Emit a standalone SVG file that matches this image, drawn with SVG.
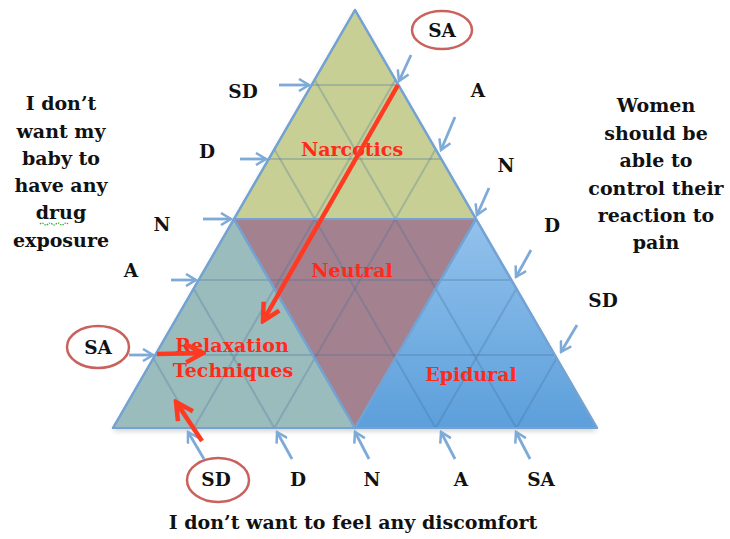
<svg xmlns="http://www.w3.org/2000/svg" width="730" height="539" viewBox="0 0 730 539">
<style>
.lbl{font-family:"DejaVu Serif","Liberation Serif",serif;font-weight:bold;font-size:18.5px;fill:#111;text-anchor:middle}
.cap{font-family:"DejaVu Serif","Liberation Serif",serif;font-weight:bold;font-size:19px;fill:#111;text-anchor:middle}
.red{font-family:"DejaVu Serif","Liberation Serif",serif;font-weight:bold;font-size:19px;fill:#ff2a1a;text-anchor:middle}
.edge{stroke:#74a3d3;stroke-width:2.2;stroke-linejoin:round}
.grid{stroke:#3f6f9c;stroke-opacity:0.28;stroke-width:2;fill:none}
.barrow{stroke:#7eaad8;stroke-width:2.8;fill:none;marker-end:url(#bh)}
.rarrow{stroke:#ff3a22;stroke-width:4.5;fill:none;marker-end:url(#rh)}
.ring{fill:none;stroke:#c9625d;stroke-width:2.5}
</style>
<defs>
<marker id="bh" markerUnits="userSpaceOnUse" viewBox="0 0 14 14" markerWidth="14" markerHeight="14" refX="12" refY="7" orient="auto">
<path d="M2,1 L12,7 L2,13" fill="none" stroke="#7eaad8" stroke-width="2.5"/>
</marker>
<marker id="rh" markerUnits="userSpaceOnUse" viewBox="0 0 22 22" markerWidth="22" markerHeight="22" refX="19" refY="11" orient="auto">
<path d="M2,2 L19,11 L2,20" fill="none" stroke="#ff3a22" stroke-width="4.5"/>
</marker>
<linearGradient id="bluegrad" x1="0" y1="0" x2="0" y2="1">
<stop offset="0" stop-color="#93c2ec"/>
<stop offset="1" stop-color="#5c9fdb"/>
</linearGradient>
<filter id="shadow" x="-10%" y="-10%" width="120%" height="130%">
<feGaussianBlur stdDeviation="2.5"/>
</filter>
</defs>

<polygon points="355,12 113,431 597,431" fill="#777" opacity="0.35" filter="url(#shadow)"/>

<g id="narcotics">
<polygon class="edge" points="355,10 234,219 476,219" fill="#c7cf95"/>
</g>
<g id="relaxation">
<polygon class="edge" points="234,219 113,428 355,428" fill="#9bbcbd"/>
</g>
<g id="neutral">
<polygon class="edge" points="234,219 476,219 355,428" fill="#a3818f"/>
</g>
<g id="epidural">
<polygon class="edge" points="476,219 355,428 597,428" fill="url(#bluegrad)"/>
</g>

<g id="grid">
<line class="grid" x1="311.6" y1="85" x2="398.4" y2="85"/>
<line class="grid" x1="268.7" y1="159" x2="441.3" y2="159"/>
<line class="grid" x1="198.7" y1="280" x2="511.3" y2="280"/>
<line class="grid" x1="155.3" y1="355" x2="554.7" y2="355"/>
<line class="grid" x1="193.67" y1="428" x2="395.33" y2="79.67"/>
<line class="grid" x1="274.33" y1="428" x2="435.67" y2="149.33"/>
<line class="grid" x1="435.67" y1="428" x2="516.33" y2="288.67"/>
<line class="grid" x1="516.33" y1="428" x2="556.67" y2="358.33"/>
<line class="grid" x1="193.67" y1="428" x2="153.33" y2="358.33"/>
<line class="grid" x1="274.33" y1="428" x2="193.67" y2="288.67"/>
<line class="grid" x1="435.67" y1="428" x2="274.33" y2="149.33"/>
<line class="grid" x1="516.33" y1="428" x2="314.67" y2="79.67"/>
</g>

<g id="borders" fill="none">
<polygon class="edge" points="355,10 113,428 597,428"/>
<polyline class="edge" points="234,219 476,219 355,428 234,219"/>
</g>

<g id="labels-left">
<text class="lbl" x="243" y="98">SD</text>
<text class="lbl" x="207" y="158">D</text>
<text class="lbl" x="162" y="231">N</text>
<text class="lbl" x="131" y="277">A</text>
<ellipse class="ring" cx="98" cy="347" rx="31" ry="21"/>
<text class="lbl" x="98" y="354">SA</text>
</g>
<g id="labels-right">
<ellipse class="ring" cx="442" cy="30" rx="30" ry="19"/>
<text class="lbl" x="442" y="37">SA</text>
<text class="lbl" x="478" y="97">A</text>
<text class="lbl" x="506" y="172">N</text>
<text class="lbl" x="552" y="232">D</text>
<text class="lbl" x="603" y="307">SD</text>
</g>
<g id="labels-bottom">
<ellipse class="ring" cx="218" cy="480" rx="31" ry="22"/>
<text class="lbl" x="216" y="486">SD</text>
<text class="lbl" x="298" y="486">D</text>
<text class="lbl" x="372" y="486">N</text>
<text class="lbl" x="461" y="486">A</text>
<text class="lbl" x="541" y="486">SA</text>
</g>

<g id="caption-left">
<text class="cap" x="61" y="110">I don’t</text>
<text class="cap" x="61" y="138">want my</text>
<text class="cap" x="61" y="165">baby to</text>
<text class="cap" x="61" y="192">have any</text>
<text class="cap" x="61" y="219">drug</text>
<path d="M40,224 q2,-2 4,0 t4,0 t4,0 t4,0 t4,0 t4,0 t4,0" fill="none" stroke="#3aa83a" stroke-width="1.2" stroke-dasharray="1.5,1"/>
<text class="cap" x="61" y="247">exposure</text>
</g>
<g id="caption-right">
<text class="cap" x="656" y="112">Women</text>
<text class="cap" x="656" y="140">should be</text>
<text class="cap" x="656" y="167">able to</text>
<text class="cap" x="656" y="195">control their</text>
<text class="cap" x="656" y="222">reaction to</text>
<text class="cap" x="656" y="249">pain</text>
</g>
<g id="caption-bottom">
<text class="cap" x="353" y="529">I don’t want to feel any discomfort</text>
</g>

<g id="region-labels">
<text class="red" x="352" y="156">Narcotics</text>
<text class="red" x="352" y="277">Neutral</text>
<text class="red" x="232" y="352">Relaxation</text>
<text class="red" x="233" y="377">Techniques</text>
<text class="red" x="471" y="381">Epidural</text>
</g>

<g id="connectors">
<line class="barrow" x1="279" y1="85" x2="309" y2="85"/>
<line class="barrow" x1="240" y1="159" x2="266" y2="159"/>
<line class="barrow" x1="203" y1="219" x2="231" y2="219"/>
<line class="barrow" x1="171" y1="280" x2="196" y2="280"/>
<line class="barrow" x1="129" y1="355" x2="153" y2="355"/>
<line class="barrow" x1="411" y1="55" x2="399" y2="81"/>
<line class="barrow" x1="455" y1="117" x2="441" y2="150"/>
<line class="barrow" x1="489" y1="188" x2="477" y2="215"/>
<line class="barrow" x1="531" y1="250" x2="516" y2="277"/>
<line class="barrow" x1="577" y1="325" x2="561" y2="352"/>
<line class="barrow" x1="204" y1="459" x2="188" y2="432"/>
<line class="barrow" x1="292" y1="459" x2="277" y2="432"/>
<line class="barrow" x1="369" y1="459" x2="355" y2="432"/>
<line class="barrow" x1="455" y1="459" x2="441" y2="432"/>
<line class="barrow" x1="530" y1="459" x2="516" y2="432"/>
<line class="rarrow" x1="398" y1="85" x2="263" y2="321"/>
<line class="rarrow" x1="157" y1="354" x2="203" y2="353"/>
<line class="rarrow" x1="202" y1="441" x2="176" y2="402"/>
</g>
</svg>
